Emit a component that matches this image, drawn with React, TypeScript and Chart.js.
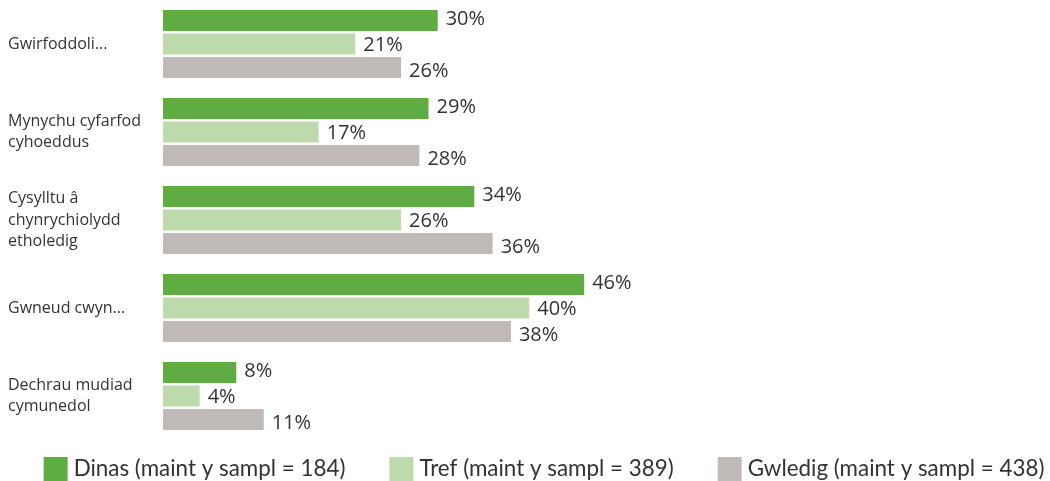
import React, { useEffect, useRef } from "react";
import { Chart, registerables } from "chart.js";

Chart.register(...registerables);

const categories: (string | string[])[] = [
  "Gwirfoddoli...",
  ["Mynychu cyfarfod", "cyhoeddus"],
  ["Cysylltu â", "chynrychiolydd", "etholedig"],
  "Gwneud cwyn...",
  ["Dechrau mudiad", "cymunedol"],
];

const seriesLabels = [
  "Dinas (maint y sampl = 184)",
  "Tref (maint y sampl = 389)",
  "Gwledig (maint y sampl = 438)",
];

const dinas = [30, 29, 34, 46, 8];
const tref = [21, 17, 26, 40, 4];
const gwledig = [26, 28, 36, 38, 11];

const COLORS = ["#5dad42", "#bcdaab", "#bfbab7"];
const FONT = "'Open Sans', sans-serif";
const LEGEND_FONT = "Lato, sans-serif";
const TEXT_COLOR = "#333333";
const LABEL_DY = [-1, 1, 4];

const valueLabelPlugin = {
  id: "valueLabels",
  afterDatasetsDraw(chart: any) {
    const ctx = chart.ctx;
    ctx.save();
    ctx.font = `20px ${FONT}`;
    ctx.fillStyle = TEXT_COLOR;
    ctx.textAlign = "left";
    ctx.textBaseline = "middle";
    chart.data.datasets.forEach((ds: any, di: number) => {
      const meta = chart.getDatasetMeta(di);
      meta.data.forEach((bar: any, i: number) => {
        ctx.fillText(`${ds.data[i]}%`, bar.x + 8, bar.y + LABEL_DY[di]);
      });
    });
    ctx.restore();
  },
};

const legendPlugin = {
  id: "customLegend",
  afterDraw(chart: any) {
    const ctx = chart.ctx;
    ctx.save();
    ctx.font = `22.4px ${LEGEND_FONT}`;
    ctx.textBaseline = "middle";
    ctx.textAlign = "left";
    const box = 24;
    const gapText = 6;
    const gapItem = 44;
    const items = chart.data.datasets.map((ds: any) => ({
      label: ds.label,
      color: ds.backgroundColor,
      w: ctx.measureText(ds.label).width,
    }));
    const total =
      items.reduce((s: number, it: any) => s + box + gapText + it.w, 0) +
      gapItem * (items.length - 1);
    let x = 544 - total / 2;
    const top = chart.chartArea.bottom + 17;
    items.forEach((it: any) => {
      ctx.fillStyle = it.color;
      ctx.fillRect(x, top, box, box);
      ctx.fillStyle = TEXT_COLOR;
      ctx.fillText(it.label, x + box + gapText, top + box / 2);
      x += box + gapText + it.w + gapItem;
    });
    ctx.restore();
  },
};

export default function App() {
  const ref = useRef<HTMLCanvasElement | null>(null);

  useEffect(() => {
    document.body.style.margin = "0";
    if (!ref.current) return;
    const chart = new Chart(ref.current, {
      type: "bar",
      data: {
        labels: categories,
        datasets: [
          { label: seriesLabels[0], data: dinas, backgroundColor: COLORS[0] },
          { label: seriesLabels[1], data: tref, backgroundColor: COLORS[1] },
          { label: seriesLabels[2], data: gwledig, backgroundColor: COLORS[2] },
        ],
      },
      options: {
        indexAxis: "y",
        animation: false,
        responsive: true,
        maintainAspectRatio: false,
        layout: { padding: { left: 8, right: 8, top: 0, bottom: 41 } },
        datasets: {
          bar: { categoryPercentage: 0.8, barPercentage: 0.9 },
        },
        plugins: {
          legend: { display: false },
          tooltip: { enabled: false },
        },
        scales: {
          x: { display: false, min: 0, max: 96 },
          y: {
            grid: { display: false },
            border: { display: false },
            ticks: {
              crossAlign: "far",
              color: TEXT_COLOR,
              font: { family: FONT, size: 16, lineHeight: 1.35 },
              padding: 0,
            },
            afterFit(scale: any) {
              scale.width = 155;
              scale.paddingTop = 0;
              scale.paddingBottom = 0;
            },
          },
        },
      },
      plugins: [valueLabelPlugin, legendPlugin],
    });
    return () => chart.destroy();
  }, []);

  return (
    <div style={{ position: "fixed", left: 0, top: 0, width: 1050, height: 481 }}>
      <canvas ref={ref} />
    </div>
  );
}
